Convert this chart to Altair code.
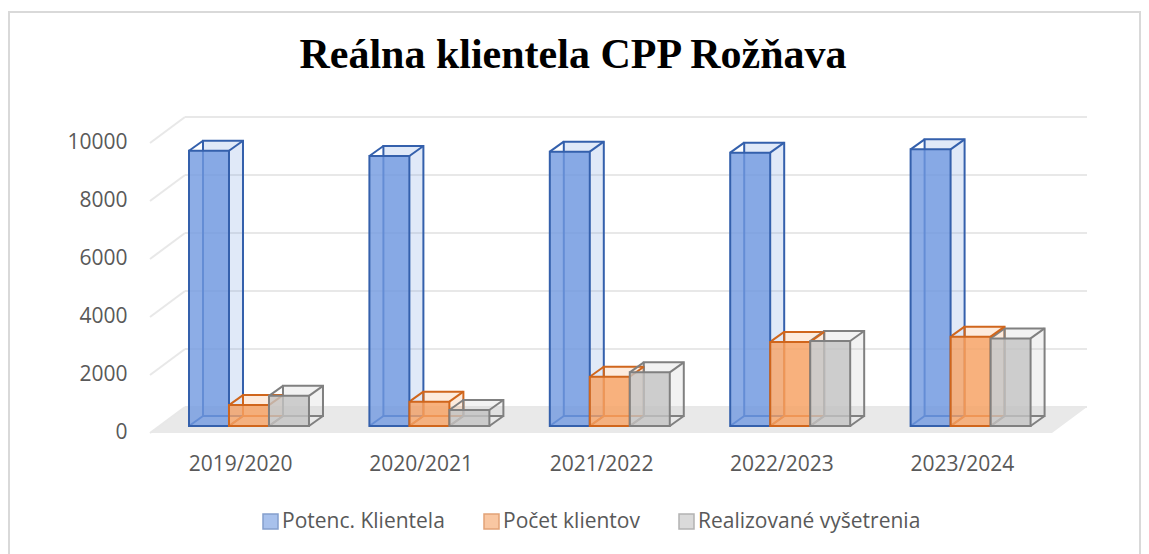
import json
import altair as alt
import pandas as pd

# ---- data ----
categories = ["2019/2020", "2020/2021", "2021/2022", "2022/2023", "2023/2024"]
series = ["Potenc. Klientela", "Počet klientov", "Realizované vyšetrenia"]
potenc = [9490, 9310, 9460, 9425, 9540]
pocet = [720, 840, 1700, 2900, 3080]
realiz = [1040, 550, 1850, 2930, 3020]
y_ticks = [0, 2000, 4000, 6000, 8000, 10000]

# ---- layout / style constants ----
W, H = 902, 290
YMAX = 10000
BAR = 0.2217          # bar width in category units
START = -0.2838       # left edge of first bar relative to category centre
DXB, DYB = 14, 10     # bar depth (px)
DXW, DYW = 35, 19     # wall depth (px)
FRONT = 7             # floor front edge below zero (px)
FONT = "Open Sans"
TXT = "#595959"
fills = ["#7099e0", "#f6a265", "#c3c3c3"]
strokes = ["#3460ac", "#d0661c", "#808080"]

values = [potenc, pocet, realiz]
rows = []
for i, cat in enumerate(categories):
    for s, name in enumerate(series):
        x0 = i + START + s * BAR
        rows.append({"cat": cat, "series": name, "value": values[s][i],
                     "x0": x0, "x1": x0 + BAR, "zero": 0})
df = pd.DataFrame(rows)

n = len(categories)
xscale = alt.Scale(domain=[-0.5, n - 0.5], nice=False, zero=False)
yscale = alt.Scale(domain=[0, YMAX], nice=False)

x_axis = alt.Axis(values=list(range(n)), title=None, grid=False, domain=False, ticks=False,
                  labelFont=FONT, labelFontSize=21, labelColor=TXT, labelPadding=27,
                  labelExpr=f"{json.dumps(categories)}[datum.value]")
y_axis = alt.Axis(values=y_ticks, title=None, grid=False, domain=False, ticks=False,
                  format="d", labelFont=FONT, labelFontSize=21, labelColor=TXT,
                  labelPadding=23, labelOffset=6)

legend = alt.Legend(
    orient="none", legendX=110, legendY=375, direction="horizontal", columns=3,
    title=None, symbolType="square", symbolSize=225, symbolStrokeWidth=1.5,
    symbolOpacity=0.6, labelFont=FONT, labelFontSize=21, labelColor=TXT,
    labelOffset=1, labelLimit=0, columnPadding=36, padding=0,
)
fill_enc = alt.Fill("series:N", scale=alt.Scale(domain=series, range=fills), legend=legend)
stroke_enc = alt.Stroke("series:N", scale=alt.Scale(domain=series, range=strokes), legend=legend)

# floor (parallelogram) expressed in the chart's own units
ux = n / W            # category units per pixel
uy = YMAX / H         # value units per pixel
floor_df = pd.DataFrame({
    "fx": [-0.5, -0.5 + DXW * ux, n - 0.5, n - 0.5 + DXW * ux],
    "top": [-FRONT * uy, DYW * uy, DYW * uy, DYW * uy],
    "bot": [-FRONT * uy, -FRONT * uy, -FRONT * uy, DYW * uy],
})
floor = alt.Chart(floor_df).mark_area(color="#e9e9e9", orient="vertical").encode(
    x=alt.X("fx:Q", scale=xscale, axis=x_axis),
    y=alt.Y("top:Q", scale=yscale, axis=y_axis),
    y2="bot:Q",
)

grid_df = pd.DataFrame({"tick": y_ticks})
grid = alt.Chart(grid_df).mark_rule(color="#e8e8e8", strokeWidth=2, yOffset=-DYW, y2Offset=-DYW).encode(
    x=alt.value(DXW), x2=alt.value(W + DXW),
    y=alt.Y("tick:Q", scale=yscale, axis=y_axis), y2="tick:Q",
)
wall = alt.Chart(grid_df).mark_rule(color="#e8e8e8", strokeWidth=2, yOffset=FRONT, y2Offset=-DYW).encode(
    x=alt.value(0), x2=alt.value(DXW),
    y=alt.Y("tick:Q", scale=yscale, axis=y_axis), y2="tick:Q",
)

base = alt.Chart(df)

back = base.mark_rect(xOffset=DXB, x2Offset=DXB, yOffset=-DYB, y2Offset=-DYB,
                      fillOpacity=0.22, strokeWidth=2).encode(
    x=alt.X("x0:Q", scale=xscale, axis=x_axis), x2="x1:Q",
    y=alt.Y("value:Q", scale=yscale, axis=y_axis), y2="zero:Q",
    fill=fill_enc, stroke=stroke_enc,
)

edges = []
for cx, cy in [("x0", "value"), ("x1", "value"), ("x1", "zero"), ("x0", "zero")]:
    edges.append(base.mark_rule(x2Offset=DXB, y2Offset=-DYB, strokeWidth=2).encode(
        x=alt.X(f"{cx}:Q", scale=xscale, axis=x_axis), x2=f"{cx}:Q",
        y=alt.Y(f"{cy}:Q", scale=yscale, axis=y_axis), y2=f"{cy}:Q",
        stroke=stroke_enc,
    ))

front = base.mark_rect(fillOpacity=0.8, strokeWidth=2).encode(
    x=alt.X("x0:Q", scale=xscale, axis=x_axis), x2="x1:Q",
    y=alt.Y("value:Q", scale=yscale, axis=y_axis), y2="zero:Q",
    fill=fill_enc, stroke=stroke_enc,
)

one = pd.DataFrame({"k": [0]})
title = alt.Chart(one).mark_text(
    text="Reálna klientela CPP Rožňava", font="Liberation Serif", fontWeight="bold",
    fontSize=42, color="#000000", align="center", baseline="alphabetic",
).encode(x=alt.value(423), y=alt.value(-68))

border = alt.Chart(one).mark_rect(fillOpacity=0, stroke="#d9d9d9", strokeWidth=2).encode(
    x=alt.value(-141), x2=alt.value(990), y=alt.value(-124), y2=alt.value(440),
)

chart = alt.layer(border, floor, grid, wall, back, *edges, front, title).properties(
    width=W, height=H,
    autosize=alt.AutoSizeParams(type="none"),
    padding={"left": 150, "top": 136, "right": 97, "bottom": 128},
    background="white",
).configure_view(stroke=None)

chart.save("out.html", embed_options={"renderer": "svg", "actions": False})
